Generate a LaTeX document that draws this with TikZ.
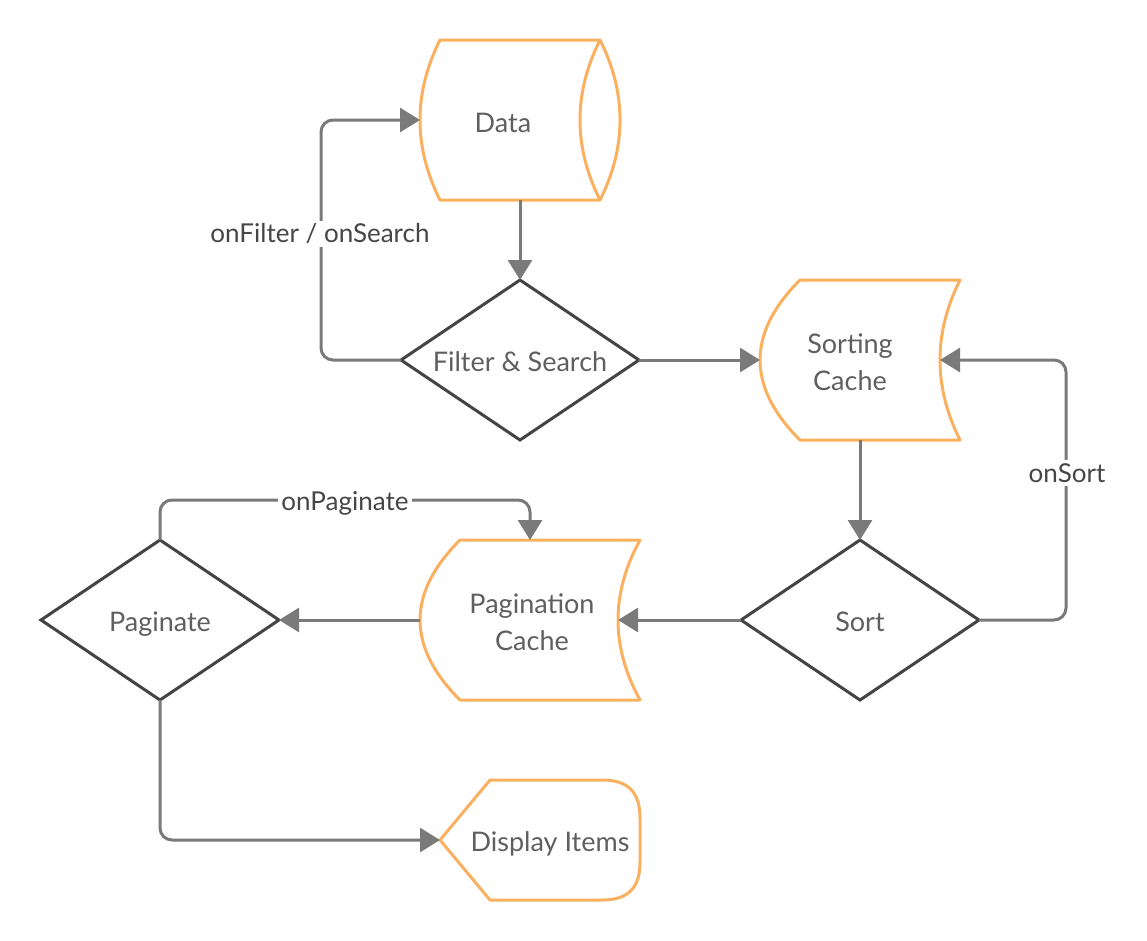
\documentclass[tikz,border=0pt]{standalone}
\usepackage{fontspec}
\setmainfont{Lato}
\usetikzlibrary{shapes.geometric,arrows.meta}
\definecolor{flowgray}{RGB}{122,122,122}
\definecolor{edgegray}{RGB}{68,68,68}
\definecolor{txtgray}{RGB}{95,95,95}
\definecolor{lblgray}{RGB}{70,70,70}
\definecolor{cacheorange}{RGB}{250,176,95}
\begin{document}
\begin{tikzpicture}
  [x=1pt,y=-1pt,
  store/.style={draw=cacheorange,line width=3pt,line join=round},
  decision/.style={diamond,draw=edgegray,line width=3pt,fill=white,
                  minimum width=238pt,minimum height=160pt,aspect=1.5,
                  inner sep=0,outer sep=0,text=txtgray,
                  text height=23pt,text depth=0pt,
                  font=\fontsize{27}{37}\selectfont},
  txt/.style={text=txtgray,align=center,font=\fontsize{27}{37}\selectfont},
  flow/.style={draw=flowgray,line width=3pt,rounded corners=12pt,
                  -{Triangle[length=20pt,width=24pt]}},
  lbl/.style={fill=white,text=lblgray,inner sep=3pt,
                  font=\fontsize{26}{30}\selectfont}
                  ]
  \useasboundingbox (0,0) rectangle (1147,940);

  % storage shapes
  \draw[store] (440,40) -- (600,40)
    .. controls (626.7,93) and (626.7,147) .. (600,200)
    -- (440,200)
    .. controls (413.3,147) and (413.3,93) .. (440,40) -- cycle;
  \draw[store] (600,40) .. controls (573.3,93) and (573.3,147) .. (600,200);
  \draw[store] (800,280) -- (960,280)
    .. controls (933.3,333) and (933.3,387) .. (960,440)
    -- (800,440)
    .. controls (746.7,387) and (746.7,333) .. (800,280) -- cycle;
  \draw[store] (460,540) -- (640,540)
    .. controls (610.7,593) and (610.7,647) .. (640,700)
    -- (460,700)
    .. controls (406.7,647) and (406.7,593) .. (460,540) -- cycle;
  \draw[store] (440,840) -- (490,780) -- (602,780)
    .. controls (628,780) and (640,792) .. (640,818)
    -- (640,862)
    .. controls (640,888) and (628,900) .. (602,900)
    -- (490,900) -- cycle;

  \node[txt] (data) at (503,123) {Data};
  \node[txt] (sorting) at (850,362) {Sorting\\Cache};
  \node[txt] (pagcache) at (532,622) {Pagination\\Cache};
  \node[txt] (display) at (550,844) {Display Items};

  \coordinate (data-w) at (420,120);
  \coordinate (data-s) at (520,200);
  \coordinate (sorting-w) at (760,360);
  \coordinate (sorting-e) at (940,360);
  \coordinate (sorting-s) at (860,440);
  \coordinate (pagcache-w) at (420,620);
  \coordinate (pagcache-e) at (618,620);
  \coordinate (pagcache-n) at (530,540);
  \coordinate (display-w) at (440,840);

  % decisions
  \node[decision] (filter) at (520,360) {Filter \& Search};
  \node[decision] (sort) at (860,620) {Sort};
  \node[decision] (paginate) at (160,620) {Paginate};

  % connectors
  \draw[flow] (data-s) -- (filter.north);
  \draw[flow] (filter.west) -- ++(-80,0) |- (data-w);
  \draw[flow] (filter.east) -- (sorting-w);
  \draw[flow] (sorting-s) -- (sort.north);
  \draw[flow] (sort.east) -- ++(87,0) |- (sorting-e);
  \draw[flow] (sort.west) -- (pagcache-e);
  \draw[flow] (pagcache-w) -- (paginate.east);
  \draw[flow] (paginate.north) -- ++(0,-40) -| (pagcache-n);
  \draw[flow] (paginate.south) |- (display-w);

  \node[lbl] (onfilter) at (320,234) {onFilter / onSearch};
  \node[lbl] (onsort) at (1067,473) {onSort};
  \node[lbl] (onpaginate) at (345,503) {onPaginate};
\end{tikzpicture}
\end{document}
